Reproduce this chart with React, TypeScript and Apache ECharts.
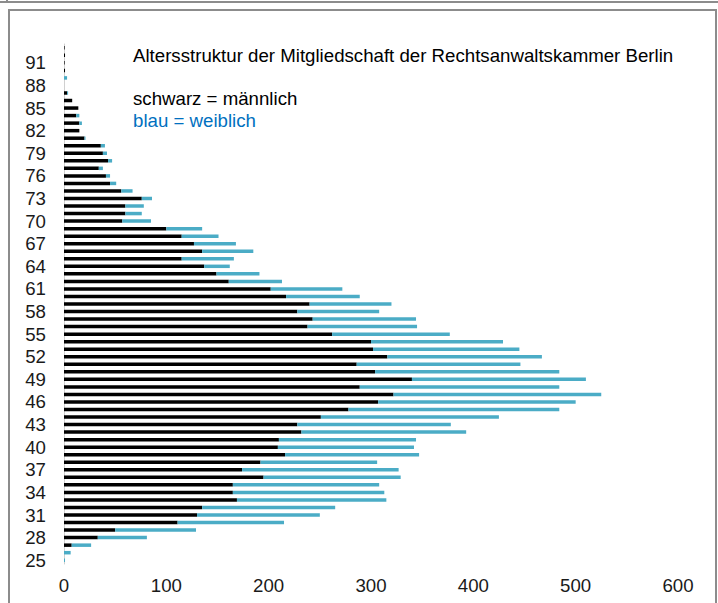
import React, { useEffect, useRef } from "react";
import * as echarts from "echarts";

const ages: string[] = [];
for (let a = 25; a <= 93; a++) ages.push(String(a));

// ages 25 .. 93
const male = [
  0, 0, 7.5, 33, 50, 111, 130, 135, 169, 165,
  165, 195, 174, 192, 216, 209, 210, 232, 228, 251,
  278, 307, 322, 289, 340, 304, 286, 316, 302, 300,
  262, 238, 243, 228, 240, 217, 202, 161, 149, 137,
  115, 135, 127, 115, 100, 57, 60, 60, 76, 56,
  45, 41, 34, 43, 38, 36, 20, 15, 15, 12,
  14, 8, 3, 0, 0, 1, 0.6, 1, 0.6,
];
const female = [
  1, 6.5, 19, 48, 79, 104, 120, 130, 146, 148,
  143, 134, 153, 114, 131, 133, 134, 161, 150, 174,
  206, 193, 203, 195, 170, 180, 160, 151, 143, 129,
  115, 107, 101, 80, 80, 72, 70, 52, 42, 25,
  51, 50, 41, 36, 35, 28, 16, 18, 10, 11,
  6, 4, 4, 4, 4, 4, 1, 0, 2.5, 3,
  0, 0, 1, 0, 3, 0, 0, 0, 0,
];

const titleText = "Altersstruktur der Mitgliedschaft der Rechtsanwaltskammer Berlin";
const legendMale = "schwarz = männlich";
const legendFemale = "blau = weiblich";

const FONT = "Liberation Sans, Arial, sans-serif";
const FS = 18.67;

export default function App() {
  const ref = useRef<HTMLDivElement>(null);
  useEffect(() => {
    if (!ref.current) return;
    const chart = echarts.init(ref.current, null, { renderer: "svg" });
    chart.setOption({
      animation: false,
      backgroundColor: "#ffffff",
      grid: { left: 64, right: 40, top: 44, bottom: 39, containLabel: false },
      xAxis: {
        type: "value",
        min: 0,
        max: 600,
        interval: 100,
        axisLine: { show: false },
        axisTick: { show: false },
        splitLine: { show: false },
        axisLabel: { color: "#1a1a1a", fontSize: FS, fontFamily: FONT, margin: 12 },
      },
      yAxis: {
        type: "category",
        data: ages,
        axisLine: { show: true, lineStyle: { color: "#d0d0d0", width: 1 } },
        axisTick: { show: false },
        splitLine: { show: false },
        axisLabel: { interval: 2, color: "#1a1a1a", fontSize: FS, fontFamily: FONT, margin: 18 },
      },
      series: [
        {
          type: "bar",
          name: "männlich",
          stack: "a",
          data: male,
          barWidth: 3.5,
          itemStyle: { color: "#000000" },
        },
        {
          type: "bar",
          name: "weiblich",
          stack: "a",
          data: female,
          barWidth: 3.5,
          itemStyle: { color: "#4BACC6" },
        },
      ],
      graphic: [
        { type: "line", shape: { x1: 0, y1: 2, x2: 718, y2: 2 }, style: { stroke: "#8c8c8c", lineWidth: 2 } },
        { type: "line", shape: { x1: 7, y1: 0, x2: 7, y2: 3 }, style: { stroke: "#8c8c8c", lineWidth: 2 } },
        { type: "rect", shape: { x: 9, y: 10, width: 707, height: 600 }, style: { fill: "none", stroke: "#8c8c8c", lineWidth: 2 } },
        {
          type: "text", x: 133, y: 55,
          style: { text: titleText, fontSize: FS, fontFamily: FONT, fill: "#000", textVerticalAlign: "middle" },
        },
        {
          type: "text", x: 133, y: 98.5,
          style: { text: legendMale, fontSize: FS, fontFamily: FONT, fill: "#000", textVerticalAlign: "middle" },
        },
        {
          type: "text", x: 133, y: 120,
          style: { text: legendFemale, fontSize: FS, fontFamily: FONT, fill: "#0070C0", textVerticalAlign: "middle" },
        },
      ],
    });
    return () => chart.dispose();
  }, []);
  return <div ref={ref} style={{ position: "absolute", left: 0, top: 0, width: 718, height: 603 }} />;
}
